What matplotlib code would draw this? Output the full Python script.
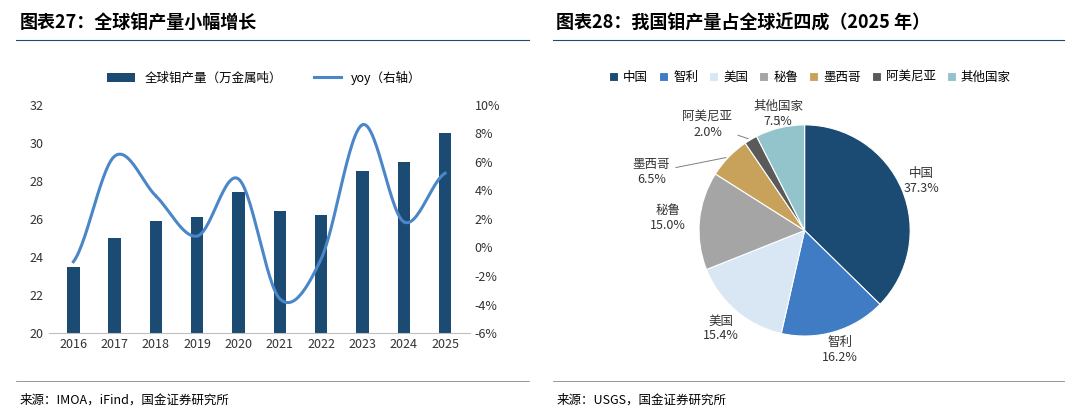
import numpy as np
import matplotlib
matplotlib.use("Agg")
import matplotlib.pyplot as plt

plt.rcParams['font.family'] = ['Noto Sans CJK SC', 'DejaVu Sans']

years = ['2016','2017','2018','2019','2020','2021','2022','2023','2024','2025']
output = [23.5, 25.0, 25.9, 26.1, 27.4, 26.4, 26.2, 28.5, 29.0, 30.5]
yoy = [-1.0, 6.4, 3.6, 0.8, 4.8, -3.6, -0.8, 8.6, 1.8, 5.2]

countries = ['中国', '智利', '美国', '秘鲁', '墨西哥', '阿美尼亚', '其他国家']
shares = [37.3, 16.2, 15.4, 15.0, 6.5, 2.0, 7.5]
pie_colors = ['#1b4a72', '#3f7cc4', '#d9e6f3', '#a5a5a5', '#c8a25a', '#5a5a5a', '#93c3cb']

fig = plt.figure(figsize=(10.8, 4.19), dpi=100)

fig.text(0.018, 0.945, '图表27：全球钼产量小幅增长', fontsize=13, fontweight='bold', style='italic', va='center')
fig.text(0.515, 0.945, '图表28：我国钼产量占全球近四成（2025 年）', fontsize=13, fontweight='bold', style='italic', va='center')
for x0, x1 in [(0.015, 0.49), (0.512, 0.985)]:
    fig.add_artist(plt.Line2D([x0, x1], [0.905, 0.905], color='#1b4a72', lw=0.8))
    fig.add_artist(plt.Line2D([x0, x1], [0.09, 0.09], color='#888888', lw=0.6))
fig.text(0.018, 0.045, '来源：IMOA，iFind，国金证券研究所', fontsize=9, va='center')
fig.text(0.515, 0.045, '来源：USGS，国金证券研究所', fontsize=9, va='center')

ax = fig.add_axes([0.045, 0.205, 0.39, 0.545])
x = np.arange(len(years))
ax.bar(x, output, width=0.3, color='#1b4a72', label='全球钼产量（万金属吨）')
ax.set_ylim(20, 32)
ax.set_yticks(range(20, 33, 2))
ax.set_xticks(x)
ax.set_xticklabels(years)
ax.set_xlim(-0.6, len(years) - 0.4)
for s in ['top', 'right', 'left']:
    ax.spines[s].set_visible(False)
ax.spines['bottom'].set_color('#bfbfbf')
ax.tick_params(length=0, labelsize=9, colors='#333333')

ax2 = ax.twinx()
px = x.astype(float); py = np.array(yoy)
sx, sy = [], []
for i in range(len(px) - 1):
    p0 = py[max(i - 1, 0)]; p1 = py[i]; p2 = py[i + 1]; p3 = py[min(i + 2, len(py) - 1)]
    t = np.linspace(0, 1, 30)
    yy = 0.5 * (2 * p1 + (-p0 + p2) * t + (2 * p0 - 5 * p1 + 4 * p2 - p3) * t**2 + (-p0 + 3 * p1 - 3 * p2 + p3) * t**3)
    sx.extend(px[i] + t); sy.extend(yy)
ax2.plot(sx, sy, color='#4a86c8', lw=2.2, label='yoy（右轴）')
ax2.set_ylim(-6, 10)
ax2.set_yticks(range(-6, 11, 2))
ax2.set_yticklabels([f'{v}%' for v in range(-6, 11, 2)])
for s in ['top', 'right', 'left', 'bottom']:
    ax2.spines[s].set_visible(False)
ax2.tick_params(length=0, labelsize=9, colors='#333333')

h1, l1 = ax.get_legend_handles_labels()
h2, l2 = ax2.get_legend_handles_labels()
fig.legend(h1 + h2, l1 + l2, loc='center', bbox_to_anchor=(0.245, 0.815), ncol=2, frameon=False,
           fontsize=9, handlelength=2.2, columnspacing=2.5)

axp = fig.add_axes([0.6225, 0.135, 0.245, 0.63])
wedges, _ = axp.pie(shares, colors=pie_colors, startangle=90, counterclock=False,
                    wedgeprops=dict(edgecolor='white', linewidth=0.8))
axp.set_aspect('equal')
radii = {0: 1.2, 1: 1.18, 2: 1.22, 3: 1.3}
for i, w in enumerate(wedges):
    ang = np.deg2rad((w.theta1 + w.theta2) / 2)
    cx, cy = np.cos(ang), np.sin(ang)
    txt = f'{countries[i]}\n{shares[i]:.1f}%'
    if i in (4, 5, 6):
        tx, ty = {4: (-1.45, 0.55), 5: (-0.92, 1.0), 6: (-0.25, 1.1)}[i]
        axp.annotate(txt, xy=(1.0 * cx, 1.0 * cy), xytext=(tx, ty), ha='center', va='center', fontsize=9,
                     color='#333333', arrowprops=dict(arrowstyle='-', color='#7f7f7f', lw=0.7))
    else:
        r = radii[i]
        axp.text(r * cx, r * cy, txt, ha='center', va='center', fontsize=9, color='#333333')

fig.legend(wedges, countries, loc='center', bbox_to_anchor=(0.75, 0.815), ncol=7, frameon=False,
           fontsize=9, handlelength=0.7, handleheight=0.7, columnspacing=0.9, handletextpad=0.4)

fig.savefig('out.png', dpi=100)
